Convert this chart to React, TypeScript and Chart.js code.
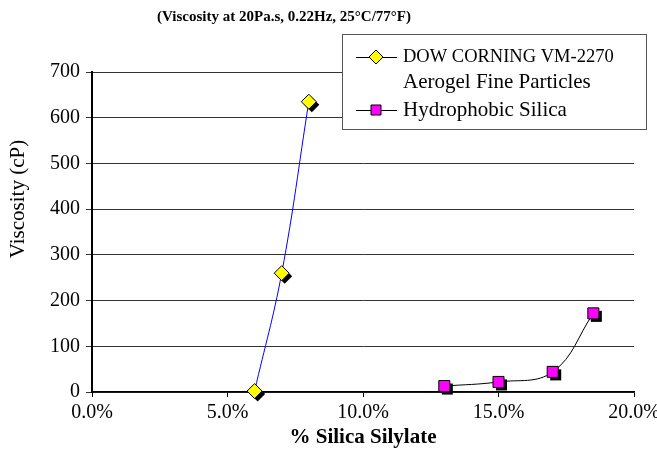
import React, { useEffect, useRef } from "react";
import { Chart, registerables } from "chart.js";

Chart.register(...registerables);

// ---- data ----
const aerogelX = [6, 7, 8];
const aerogelY = [2, 260, 635];
const silicaX = [13, 15, 17, 18.5];
const silicaY = [13, 22, 44, 172];

const xMin = 0;
const xMax = 20;
const xStep = 5;
const yMin = 0;
const yMax = 700;
const yStep = 100;

const chartTitle = "(Viscosity at 20Pa.s, 0.22Hz, 25°C/77°F)";
const xAxisTitle = "% Silica Silylate";
const yAxisTitle = "Viscosity (cP)";
const aerogelLabel = ["DOW CORNING VM-2270", "Aerogel Fine Particles"];
const silicaLabel = ["Hydrophobic Silica"];

const FONT = "'Liberation Serif', 'Times New Roman', serif";
const SHADOW = 3;

function diamondPath(ctx: CanvasRenderingContext2D, x: number, y: number, r: number) {
  ctx.beginPath();
  ctx.moveTo(x - r, y);
  ctx.lineTo(x, y - r);
  ctx.lineTo(x + r, y);
  ctx.lineTo(x, y + r);
  ctx.closePath();
}
function squarePath(ctx: CanvasRenderingContext2D, x: number, y: number, half: number) {
  ctx.beginPath();
  ctx.rect(x - half, y - half, 2 * half, 2 * half);
  ctx.closePath();
}

const markerShadow = {
  id: "markerShadow",
  beforeDatasetDraw(chart: any, args: any) {
    const ds = chart.data.datasets[args.index];
    if (ds.showLine) return;
    const ctx: CanvasRenderingContext2D = chart.ctx;
    ctx.save();
    ctx.fillStyle = "#000";
    args.meta.data.forEach((el: any) => {
      const r = el.options.radius;
      const x = el.x + SHADOW;
      const y = el.y + SHADOW;
      if (el.options.pointStyle === "rectRot") diamondPath(ctx, x, y, r);
      else squarePath(ctx, x, y, r * Math.SQRT1_2);
      ctx.fill();
    });
    ctx.restore();
  },
};

const textPlugin = {
  id: "texts",
  afterDraw(chart: any) {
    const ctx: CanvasRenderingContext2D = chart.ctx;
    const area = chart.chartArea;
    ctx.save();
    // title
    ctx.fillStyle = "#000";
    ctx.textAlign = "center";
    ctx.textBaseline = "middle";
    ctx.font = `bold 15px ${FONT}`;
    ctx.fillText(chartTitle, 284, 17);
    // x title
    ctx.font = `bold 21px ${FONT}`;
    ctx.fillText(xAxisTitle, (area.left + area.right) / 2, 438);
    // y title
    ctx.save();
    ctx.translate(18, 199);
    ctx.rotate(-Math.PI / 2);
    ctx.font = `21px ${FONT}`;
    ctx.fillText(yAxisTitle, 0, 0);
    ctx.restore();

    // legend
    const bx = 342, by = 34, bw = 304, bh = 95;
    ctx.fillStyle = "#fff";
    ctx.fillRect(bx, by, bw, bh);
    ctx.strokeStyle = "#555";
    ctx.lineWidth = 1;
    ctx.strokeRect(bx + 0.5, by + 0.5, bw, bh);

    const lx1 = 356, lx2 = 397, mx = 376, tx = 403;
    const rows = [57, 82, 110];
    // entry 1
    ctx.strokeStyle = "#000";
    ctx.beginPath();
    ctx.moveTo(lx1, rows[0] + 0.5);
    ctx.lineTo(lx2, rows[0] + 0.5);
    ctx.stroke();
    diamondPath(ctx, mx, rows[0], 7);
    ctx.fillStyle = "#FFFF00";
    ctx.fill();
    ctx.stroke();
    // entry 2
    ctx.beginPath();
    ctx.moveTo(lx1, rows[2] + 0.5);
    ctx.lineTo(lx2, rows[2] + 0.5);
    ctx.stroke();
    squarePath(ctx, mx, rows[2], 5);
    ctx.fillStyle = "#FF00FF";
    ctx.fill();
    ctx.stroke();

    ctx.fillStyle = "#000";
    ctx.textAlign = "left";
    ctx.textBaseline = "middle";
    ctx.font = `18.5px ${FONT}`;
    ctx.fillText(aerogelLabel[0], tx, rows[0]);
    ctx.font = `21px ${FONT}`;
    ctx.fillText(aerogelLabel[1], tx, rows[1]);
    ctx.fillText(silicaLabel[0], tx, rows[2]);
    ctx.restore();
  },
};

export default function App() {
  const ref = useRef<HTMLCanvasElement>(null);
  useEffect(() => {
    document.body.style.margin = "0";
    const aerogelData = aerogelX.map((x, i) => ({ x, y: aerogelY[i] }));
    const silicaData = silicaX.map((x, i) => ({ x, y: silicaY[i] }));
    const chart = new Chart(ref.current!, {
      type: "scatter",
      data: {
        datasets: [
          {
            label: aerogelLabel.join(" "),
            data: aerogelData,
            showLine: false,
            pointStyle: "rectRot",
            pointRadius: 7.5,
            backgroundColor: "#FFFF00",
            borderColor: "#000",
            borderWidth: 1,
            order: 0,
            clip: false,
          } as any,
          {
            label: silicaLabel[0],
            data: silicaData,
            showLine: false,
            pointStyle: "rect",
            pointRadius: 7.8,
            backgroundColor: "#FF00FF",
            borderColor: "#000",
            borderWidth: 1,
            order: 0,
            clip: false,
          } as any,
          {
            label: aerogelLabel.join(" ") + " line",
            data: aerogelData,
            showLine: true,
            pointRadius: 0,
            borderColor: "#0000FF",
            borderWidth: 1,
            tension: 0.4,
            order: 1,
          } as any,
          {
            label: silicaLabel[0] + " line",
            data: silicaData,
            showLine: true,
            pointRadius: 0,
            borderColor: "#000",
            borderWidth: 1,
            tension: 0.4,
            order: 1,
          } as any,
        ],
      },
      options: {
        responsive: false,
        animation: false,
        events: [],
        layout: { padding: { top: 72, right: 23, left: 0, bottom: 0 } },
        plugins: {
          legend: { display: false },
          tooltip: { enabled: false },
          title: { display: false },
        },
        scales: {
          x: {
            type: "linear",
            min: xMin,
            max: xMax,
            afterFit(scale: any) {
              scale.height = 63;
              scale.paddingLeft = 0;
              scale.paddingRight = 0;
            },
            ticks: {
              stepSize: xStep,
              maxRotation: 0,
              autoSkip: false,
              padding: 4,
              color: "#000",
              font: { family: FONT, size: 20 },
              callback: (v: any) => Number(v).toFixed(1) + "%",
            },
            grid: {
              drawOnChartArea: false,
              drawTicks: true,
              tickLength: 5,
              color: "#000",
            },
            border: { display: true, color: "#000", width: 1.5 },
          },
          y: {
            type: "linear",
            min: yMin,
            max: yMax,
            afterFit(scale: any) {
              scale.width = 92;
              scale.paddingTop = 0;
              scale.paddingBottom = 0;
            },
            ticks: {
              stepSize: yStep,
              padding: 6,
              color: "#000",
              font: { family: FONT, size: 20 },
            },
            grid: {
              color: "#333",
              lineWidth: 1,
              drawTicks: true,
              tickLength: 6,
            },
            border: { display: true, color: "#000", width: 2 },
          },
        },
      },
      plugins: [markerShadow, textPlugin],
    } as any);
    return () => chart.destroy();
  }, []);
  return <canvas ref={ref} width={657} height={455} style={{ display: "block" }} />;
}
